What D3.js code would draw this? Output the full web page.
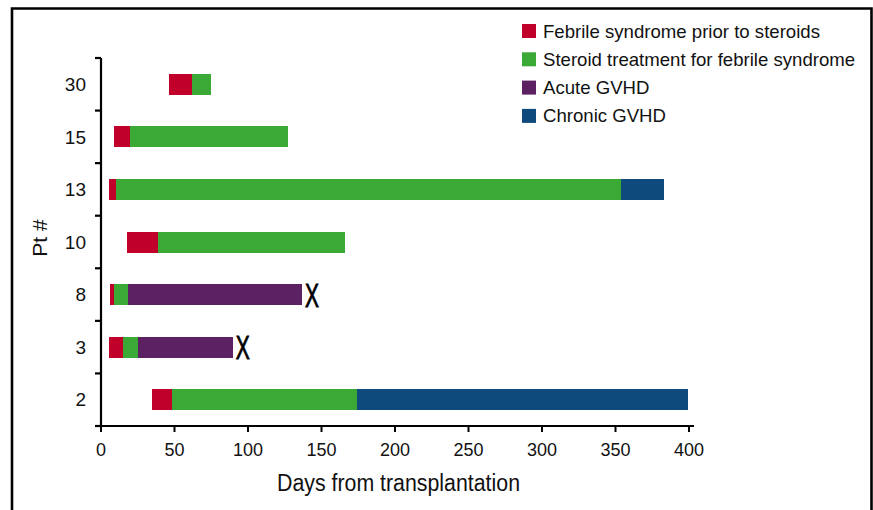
<!DOCTYPE html>
<html>
<head>
<meta charset="utf-8">
<script src="https://cdn.jsdelivr.net/npm/d3@7"></script>
<style>
  html, body { margin: 0; padding: 0; background: #fff; }
  svg { display: block; }
  text { font-family: "Liberation Sans", Arial, Helvetica, sans-serif; fill: #111; }
</style>
</head>
<body>
<script>
// ---- data ----
const patients = ["2", "3", "8", "10", "13", "15", "30"];           // bottom -> top
const febrileStart   = [35, 5.5, 6, 18, 5.5, 9, 46];
const steroidStart   = [48, 15, 9, 39, 10, 20, 62];
const acuteStart     = [null, 25, 18.5, null, null, null, null];
const chronicStart   = [174, null, null, null, 354, null, null];
const endDay         = [399, 90, 137, 166, 383, 127, 75];
const deceased       = [false, true, true, false, false, false, false];
const xTicks = [0, 50, 100, 150, 200, 250, 300, 350, 400];
const legendLabels = ["Febrile syndrome prior to steroids", "Steroid treatment for febrile syndrome", "Acute GVHD", "Chronic GVHD"];
const phaseKeys = ["febrile", "steroid", "acute", "chronic"];
const colors = ["#c0002a", "#3aa935", "#5b2163", "#0e4a7b"];

// build segments
const segments = [];
patients.forEach((p, i) => {
  const starts = [febrileStart[i], steroidStart[i], acuteStart[i], chronicStart[i]];
  const present = starts.map((s, k) => ({ s, k })).filter(d => d.s !== null);
  present.forEach((d, j) => {
    const e = j < present.length - 1 ? present[j + 1].s : endDay[i];
    segments.push({ patient: p, phase: phaseKeys[d.k], color: colors[d.k], start: d.s, end: e });
  });
});

const W = 873, H = 510;
const svg = d3.select("body").append("svg").attr("width", W).attr("height", H);

// frame
svg.append("path")
  .attr("d", `M12,${H} V8.5 H871.5 V${H}`)
  .attr("fill", "none").attr("stroke", "#000").attr("stroke-width", 2.6);

const x = d3.scaleLinear().domain([0, 400]).range([101, 689]);
const y = d3.scaleBand().domain(patients.slice().reverse()).range([58, 426]).paddingInner(0).paddingOuter(0);
const barH = 21;

// bars
svg.append("g").selectAll("rect").data(segments).join("rect")
  .attr("x", d => x(d.start))
  .attr("width", d => x(d.end) - x(d.start))
  .attr("y", d => y(d.patient) + y.bandwidth() / 2 - barH / 2)
  .attr("height", barH)
  .attr("fill", d => d.color)
  .attr("shape-rendering", "crispEdges");

// death markers (condensed X)
svg.append("g").selectAll("text").data(patients.filter((p, i) => deceased[i]))
  .join("text")
  .attr("x", p => x(endDay[patients.indexOf(p)]) + 2.5)
  .attr("y", p => y(p) + y.bandwidth() / 2 + 12)
  .attr("font-size", 34)
  .attr("textLength", 14)
  .attr("lengthAdjust", "spacingAndGlyphs")
  .style("fill", "#000")
  .attr("stroke", "#000")
  .attr("stroke-width", 0.9)
  .text("X");

// y axis: line with ticks at band edges
const yEdges = d3.range(patients.length + 1).map(i => 58 + i * y.bandwidth());
const yg = svg.append("g");
yg.append("line").attr("x1", 101).attr("x2", 101).attr("y1", 58).attr("y2", 427)
  .attr("stroke", "#000").attr("stroke-width", 2.2);
yg.selectAll(".tk").data(yEdges).join("line")
  .attr("x1", 95).attr("x2", 101).attr("y1", d => d).attr("y2", d => d)
  .attr("stroke", "#000").attr("stroke-width", 2.2);
yg.selectAll(".lab").data(patients).join("text")
  .attr("x", 86)
  .attr("y", d => y(d) + y.bandwidth() / 2)
  .attr("dy", "0.35em")
  .attr("text-anchor", "end")
  .attr("font-size", 19)
  .text(d => d);

// x axis
const xg = svg.append("g");
xg.append("line").attr("x1", 95).attr("x2", 694).attr("y1", 426).attr("y2", 426)
  .attr("stroke", "#000").attr("stroke-width", 2.2);
xg.selectAll(".tk").data(xTicks).join("line")
  .attr("x1", d => x(d)).attr("x2", d => x(d)).attr("y1", 426).attr("y2", 432)
  .attr("stroke", "#000").attr("stroke-width", 2);
xg.selectAll(".lab").data(xTicks).join("text")
  .attr("x", d => x(d))
  .attr("y", 456)
  .attr("text-anchor", "middle")
  .attr("font-size", 18)
  .text(d => d);

// axis titles (condensed look)
svg.append("text")
  .attr("x", 277).attr("y", 491)
  .attr("font-size", 23)
  .attr("textLength", 243)
  .attr("lengthAdjust", "spacingAndGlyphs")
  .text("Days from transplantation");

svg.append("text")
  .attr("transform", "translate(47,238) rotate(-90)")
  .attr("text-anchor", "middle")
  .attr("font-size", 21)
  .text("Pt #");

// legend
const lg = svg.append("g").selectAll("g").data(legendLabels).join("g")
  .attr("transform", (d, i) => `translate(522,${31 + i * 28.3})`);
lg.append("rect").attr("x", 0).attr("y", -7).attr("width", 14).attr("height", 14)
  .attr("fill", (d, i) => colors[i]);
lg.append("text").attr("x", 21).attr("y", 0).attr("dy", "0.35em")
  .attr("font-size", 18.6)
  .text(d => d);
</script>
</body>
</html>
